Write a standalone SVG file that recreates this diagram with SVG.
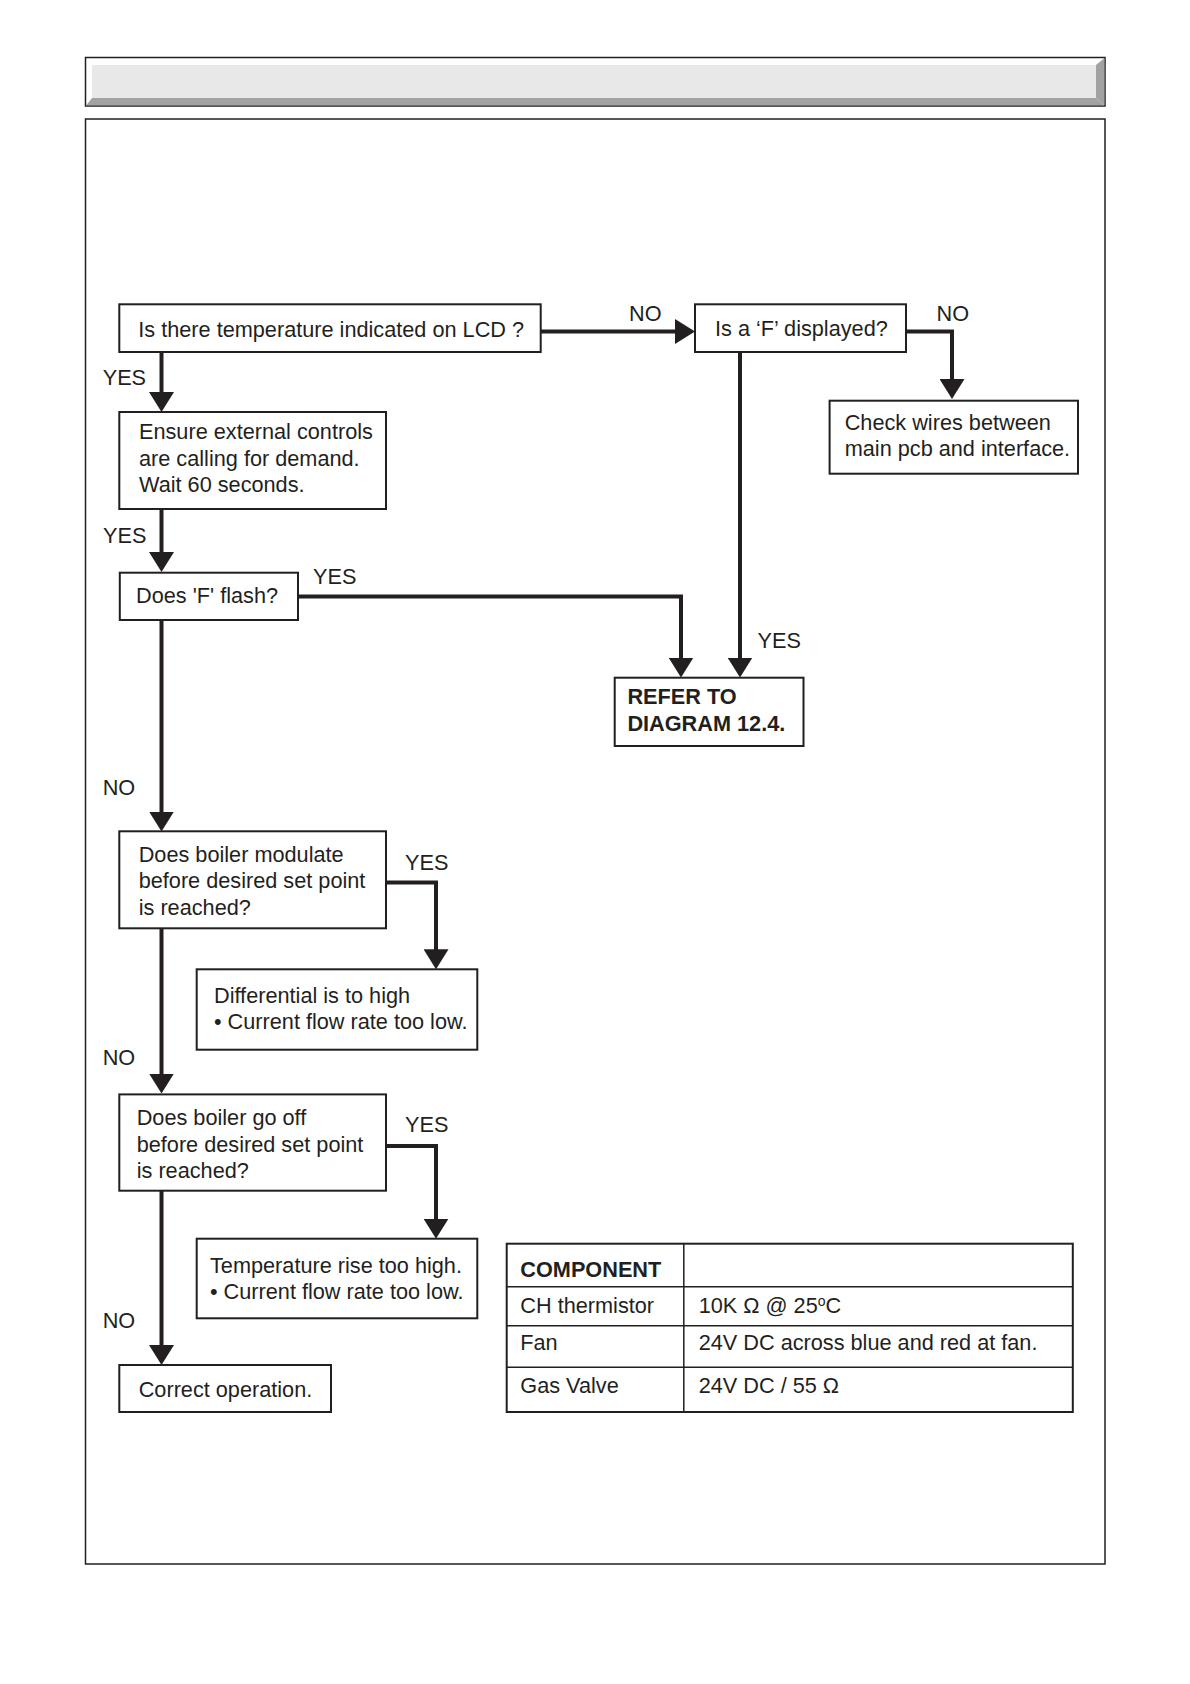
<svg xmlns="http://www.w3.org/2000/svg" width="1190" height="1684" viewBox="0 0 1190 1684">
<style>
text{font-family:"Liberation Sans",Arial,Helvetica,sans-serif;font-size:21.7px;fill:#231f20}
.b{font-weight:bold}
.box{fill:#fff;stroke:#231f20;stroke-width:2}
.conn{fill:none;stroke:#231f20;stroke-width:4;stroke-linejoin:miter;marker-end:url(#ah)}
.tbl{fill:none;stroke:#231f20;stroke-width:2}
.tl{stroke:#231f20;stroke-width:1.5}
</style>
<defs>
<marker id="ah" markerUnits="userSpaceOnUse" viewBox="0 0 20 25" refX="10" refY="12.5" markerWidth="20" markerHeight="25" orient="auto">
<path d="M0,0 L20,12.5 L0,25 z" fill="#231f20"/>
</marker>
</defs>
<rect width="1190" height="1684" fill="#fff"/>
<g id="header">
<rect x="85.5" y="57.5" width="1019.5" height="48.5" fill="#fff" stroke="#231f20" stroke-width="1.5"/>
<rect x="92" y="65" width="1004" height="33" fill="#e8e8e8"/>
<polygon points="86.3,105.3 92,98 1096,98 1104.3,105.3" fill="#a2a2a2"/>
<polygon points="1096,65 1104.3,58.3 1104.3,105.3 1096,98" fill="#a2a2a2"/>
</g>
<rect id="frame" x="85.5" y="119" width="1019.5" height="1445" fill="none" stroke="#231f20" stroke-width="1.5"/>
<g id="connectors">
<path class="conn" d="M161.5,352 V402"/>
<path class="conn" d="M161.5,509 V562"/>
<path class="conn" d="M161.5,620 V821.5"/>
<path class="conn" d="M161.5,928 V1083.5"/>
<path class="conn" d="M161.5,1191 V1355"/>
<path class="conn" d="M540,331.5 H685"/>
<path class="conn" d="M906,331.5 H952 V389"/>
<path class="conn" d="M740,352 V667.5"/>
<path class="conn" d="M298,596.5 H681 V667.5"/>
<path class="conn" d="M386,882.5 H436 V959.3"/>
<path class="conn" d="M386,1146 H436 V1228.7"/>
</g>
<g id="labels">
<text x="629" y="321">NO</text>
<text x="936.5" y="321">NO</text>
<text x="102.7" y="385.3">YES</text>
<text x="103" y="543">YES</text>
<text x="313" y="584">YES</text>
<text x="757.6" y="648">YES</text>
<text x="102.7" y="795">NO</text>
<text x="405" y="870">YES</text>
<text x="102.7" y="1065">NO</text>
<text x="405" y="1131.7">YES</text>
<text x="102.7" y="1327.7">NO</text>
</g>
<g id="n-lcd">
<rect class="box" x="119.3" y="304.3" width="421.4" height="47.7"/>
<text x="138.3" y="336.7">Is there temperature indicated on LCD ?</text>
</g>
<g id="n-fdisplayed">
<rect class="box" x="695" y="304.3" width="211" height="47.7"/>
<text x="715" y="336">Is a ‘F’ displayed?</text>
</g>
<g id="n-checkwires">
<rect class="box" x="829.6" y="400.7" width="248.4" height="73"/>
<text x="844.7" y="430">Check wires between</text>
<text x="844.7" y="456.3">main pcb and interface.</text>
</g>
<g id="n-ensure">
<rect class="box" x="119.3" y="412" width="266.7" height="97"/>
<text x="139" y="439">Ensure external controls</text>
<text x="139" y="465.5">are calling for demand.</text>
<text x="139" y="491.5">Wait 60 seconds.</text>
</g>
<g id="n-fflash">
<rect class="box" x="119.8" y="572.7" width="178.2" height="47.3"/>
<text x="136" y="603.3">Does 'F' flash?</text>
</g>
<g id="n-refer">
<rect class="box" x="614.7" y="677.7" width="188.8" height="68.3"/>
<text class="b" x="627.4" y="704.3">REFER TO</text>
<text class="b" x="627.4" y="731">DIAGRAM 12.4.</text>
</g>
<g id="n-modulate">
<rect class="box" x="119.3" y="831.3" width="266.7" height="97"/>
<text x="138.7" y="861.7">Does boiler modulate</text>
<text x="138.7" y="888.3">before desired set point</text>
<text x="138.7" y="915">is reached?</text>
</g>
<g id="n-differential">
<rect class="box" x="196.7" y="969.3" width="280.6" height="80.4"/>
<text x="214" y="1003.3">Differential is to high</text>
<text x="214" y="1029.3">• Current flow rate too low.</text>
</g>
<g id="n-gooff">
<rect class="box" x="119.3" y="1094.4" width="266.7" height="96.3"/>
<text x="136.7" y="1125">Does boiler go off</text>
<text x="136.7" y="1151.7">before desired set point</text>
<text x="136.7" y="1178.3">is reached?</text>
</g>
<g id="n-temprise">
<rect class="box" x="196.7" y="1238.7" width="280.6" height="79.6"/>
<text x="210" y="1273.3">Temperature rise too high.</text>
<text x="210" y="1299.3">• Current flow rate too low.</text>
</g>
<g id="n-correct">
<rect class="box" x="119.3" y="1365" width="211.7" height="47"/>
<text x="138.7" y="1397.3">Correct operation.</text>
</g>
<g id="table">
<rect class="tbl" x="506.7" y="1243.7" width="566.1" height="168.3"/>
<line class="tl" x1="683.8" y1="1243.7" x2="683.8" y2="1412"/>
<line class="tl" x1="506.7" y1="1286.7" x2="1072.8" y2="1286.7"/>
<line class="tl" x1="506.7" y1="1325.7" x2="1072.8" y2="1325.7"/>
<line class="tl" x1="506.7" y1="1367.3" x2="1072.8" y2="1367.3"/>
<text class="b" x="520.3" y="1276.7">COMPONENT</text>
<text x="520.3" y="1313.3">CH thermistor</text>
<text x="698.7" y="1313.3">10K Ω @ 25<tspan font-size="14" dy="-7">o</tspan><tspan dy="7">C</tspan></text>
<text x="520.3" y="1350">Fan</text>
<text x="698.7" y="1350">24V DC across blue and red at fan.</text>
<text x="520.3" y="1393.3">Gas Valve</text>
<text x="698.7" y="1393.3">24V DC / 55 Ω</text>
</g>
</svg>
